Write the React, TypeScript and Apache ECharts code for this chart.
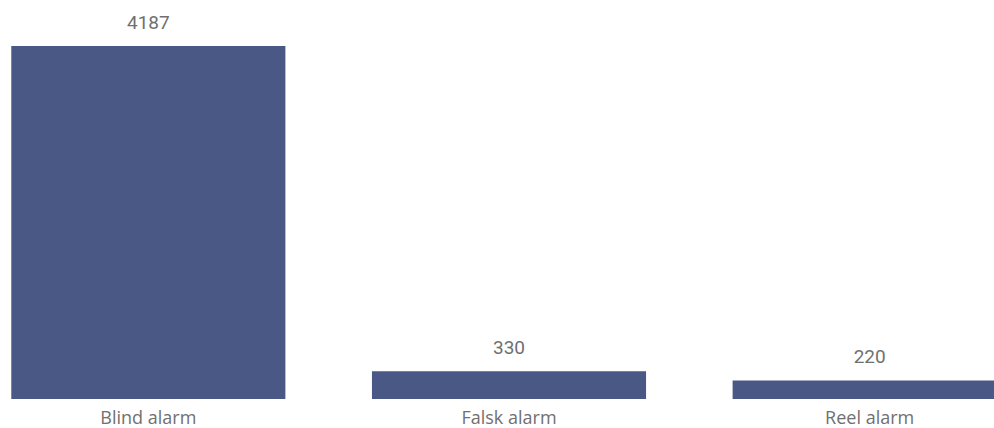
import React, { useEffect, useRef } from "react";
import * as echarts from "echarts";

const categories = ["Blind alarm", "Falsk alarm", "Reel alarm"];
const values = [4187, 330, 220];

export default function App() {
  const ref = useRef<HTMLDivElement>(null);
  useEffect(() => {
    if (!ref.current) return;
    const chart = echarts.init(ref.current, undefined, { renderer: "svg" });
    chart.setOption({
      animation: false,
      backgroundColor: "#ffffff",
      grid: { left: 0, right: 0, top: 46, bottom: 29, containLabel: false },
      xAxis: {
        type: "category",
        data: categories,
        axisLine: { show: false },
        axisTick: { show: false },
        axisLabel: {
          color: "#707070",
          fontSize: 18,
          lineHeight: 18,
          fontFamily: "Open Sans",
          margin: 9,
        },
      },
      yAxis: {
        type: "value",
        min: 0,
        max: (v: any) => v.max,
        show: false,
        splitLine: { show: false },
      },
      series: [
        {
          type: "bar",
          data: values,
          barCategoryGap: "24%",
          itemStyle: { color: "#4a5886" },
          label: {
            show: true,
            position: "top",
            distance: 14,
            color: "#707070",
            fontSize: 19,
            fontFamily: "Roboto",
          },
        },
      ],
    });
    return () => chart.dispose();
  }, []);
  return (
    <div
      style={{
        position: "absolute",
        left: 0,
        top: 0,
        width: 994,
        height: 428,
        overflow: "hidden",
        background: "#ffffff",
      }}
    >
      <div
        ref={ref}
        style={{ position: "absolute", left: -32, top: 0, width: 1082, height: 428 }}
      />
    </div>
  );
}
